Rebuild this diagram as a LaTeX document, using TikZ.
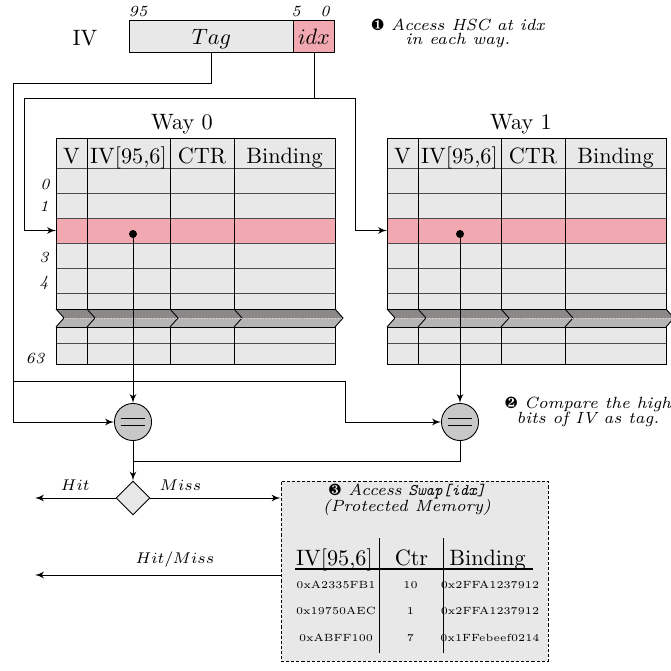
\documentclass[tikz,border=0pt]{standalone}
\usepackage{tikz}
\usepackage{amssymb}
\usepackage{amsmath}
\usepackage{pifont}
\usetikzlibrary{arrows,shapes,calc}

\definecolor{cellgray}{RGB}{232,232,232}
\definecolor{idxpink}{RGB}{242,168,177}
\definecolor{cmpgray}{RGB}{200,200,200}
\definecolor{breakdark}{RGB}{141,136,136}
\definecolor{breaklight}{RGB}{181,181,181}

\begin{document}
\begin{tikzpicture}[>=latex', x=0.45pt, y=-0.45pt]
 \tikzstyle{ivfield}=[draw, minimum height=14.4pt, inner sep=0pt, text depth=0pt]
 \tikzstyle{bitno}=[font=\scriptsize\itshape]
 \tikzstyle{colhead}=[anchor=base]
 \tikzstyle{note}=[align=center, font=\fontsize{7.3}{9}\selectfont\itshape]
 \tikzstyle{cmp}=[circle, draw, fill=cmpgray, minimum size=16.7pt, inner sep=0pt,
   path picture={\draw[line width=0.6pt]
     ($(path picture bounding box.center)+(-5.6pt,1.6pt)$) -- +(11.2pt,0pt)
     ($(path picture bounding box.center)+(-5.6pt,-1.6pt)$) -- +(11.2pt,0pt);}]
 \tikzstyle{hexval}=[anchor=base, font=\fontsize{4.7}{6}\selectfont]
 \tikzstyle{flow}=[font=\scriptsize]
 \useasboundingbox (0,0) rectangle (671,671);

 % the IV and its fields
 \node (ivname) at (85,38) {IV};
 \node (tag) at (211.5,36.5) [ivfield, fill=cellgray, minimum width=73.6pt] {$Tag$};
 \node (idx) at (314,36.5) [ivfield, fill=idxpink, minimum width=18.6pt] {$idx$};
 \node (bit95) at (138,11) [bitno] {95};
 \node (bit5) at (296,11) [bitno] {5};
 \node (bit0) at (325,11) [bitno] {0};
 \node (note1) at (458,33) [note] {\ding{182} Access HSC at idx\\[-2.6pt] in each way.};

 % the two ways
 \foreach \way/\offx/\dotx/\titlex in {0/0/133/182, 1/331/129/190} {
  \begin{scope}[shift={(\offx,0)}]
   \fill[cellgray] (56,138) rectangle (335,309) (56,327) rectangle (335,364);
   \fill[idxpink] (56,218) rectangle (335,243);
   \foreach \y in {168,193,218,243,268,293,343}
     \draw[black!70] (56,\y) -- (335,\y);
   \foreach \x in {87,170,234}
     \draw (\x,138) -- (\x,309) (\x,327) -- (\x,364);
   \draw (56,309) |- (335,138) -- (335,309);
   \draw (56,327) |- (335,364) -- (335,327);
   % cut in the rows
   \foreach \xa/\xb in {56/87,87/170,170/234,234/335} {
     \fill[breakdark] (\xa,309) -- (\xa+8,318) -- (\xb+8,318) -- (\xb,309) -- cycle;
     \fill[breaklight] (\xa+8,318) -- (\xa,327) -- (\xb,327) -- (\xb+8,318) -- cycle;
     \draw (\xa,309) -- (\xa+8,318) -- (\xa,327);
   }
   \draw (335,309) -- (343,318) -- (335,327);
   \draw (56,309) -- (335,309) (56,327) -- (335,327);
   \draw[white!75!gray, densely dotted] (64,318) -- (343,318);

   \node (way\way) at (\titlex,129.5) [colhead] {Way \way};
   \node (colv\way) at (71.5,163) [colhead] {V};
   \node (coliv\way) at (128.5,163) [colhead] {IV[95,6]};
   \node (colctr\way) at (202,163) [colhead] {CTR};
   \node (colbind\way) at (284.5,163) [colhead] {Binding};
   \coordinate (slot\way) at (56,230.5);
   \coordinate (dot\way) at (\dotx,234);
   \fill (dot\way) circle (1.8pt);
  \end{scope}
 }
 \foreach \r/\rx/\ry in {0/45/184, 1/44/206, 3/44/257, 4/44/283, 63/35/358}
   \node (row\r) at (\rx,\ry) [bitno] {\r};

 \node (cmp0) at (133,422) [cmp] {};
 \node (cmp1) at (460,422) [cmp] {};
 \node (note2) at (588,412) [note] {\ding{183} Compare the high\\[-2.6pt] bits of IV as tag.};
 \node (hitdec) at (133,498) [diamond, draw, fill=cellgray, minimum size=15.3pt, inner sep=0pt] {};

 % protected memory
 \node (swap) at (414.5,571) [draw, dash pattern=on 1.4pt off 0.9pt, fill=cellgray, minimum width=120.2pt, minimum height=81pt] {};
 \node (swaptitle) at (407,500) [note] {\ding{184} Access \texttt{Swap[idx]}\\[-1.8pt] (Protected Memory)};
 \node (hiv) at (334.5,565) [colhead] {IV[95,6]};
 \node (hctr) at (411.5,565) [colhead] {Ctr};
 \node (hbind) at (487.5,565) [colhead] {Binding};
 \foreach \n/\va/\vb/\vc/\vy in {1/0xA2335FB1/10/0x2FFA1237912/588, 2/0x19750AEC/1/0x2FFA1237912/614, 3/0xABFF100/7/0x1FFebeef0214/641.5} {
   \node (iv\n) at (336,\vy) [hexval] {\va};
   \node (ctr\n) at (410.5,\vy) [hexval] {\vb};
   \node (bind\n) at (490,\vy) [hexval] {\vc};
 }
 \draw[line width=0.6pt] (295,569) -- (533,569);
 \draw (379,538) -- (379,653) (443,538) -- (443,653);

 \coordinate (tagturn) at (13,83);
 \coordinate (tagsplit) at (13,381);
 \coordinate (tagjog) at (345,381);
 \coordinate (idxleft) at (24,98);
 \coordinate (idxright) at (355,98);
 \coordinate (merge) at (133,461);
 \coordinate (hitout) at (35,498);
 \coordinate (hmout) at (35,575);

 \draw [->] (idx.south) |- (idxleft) |- (slot0);
 \draw [->] (idx.south) |- (idxright) |- (slot1);
 \draw [->] (tag.south) |- (tagturn) |- (cmp0);
 \draw [->] (tagsplit) -- (tagjog) |- (cmp1);
 \draw [->] (dot0) -- (cmp0);
 \draw [->] (dot1) -- (cmp1);
 \draw (cmp1) |- (merge);
 \draw [->] (cmp0) -- (hitdec);
 \draw [->] (hitdec) to node[above, flow] {$Hit$} (hitout);
 \draw [->] (hitdec) to node[above, flow, pos=0.23] {$Miss$} (hitdec -| swap.west);
 \draw [->] (swap.west |- hmout) to node[above, flow, pos=0.43] {$Hit/Miss$} (hmout);

\end{tikzpicture}
\end{document}
